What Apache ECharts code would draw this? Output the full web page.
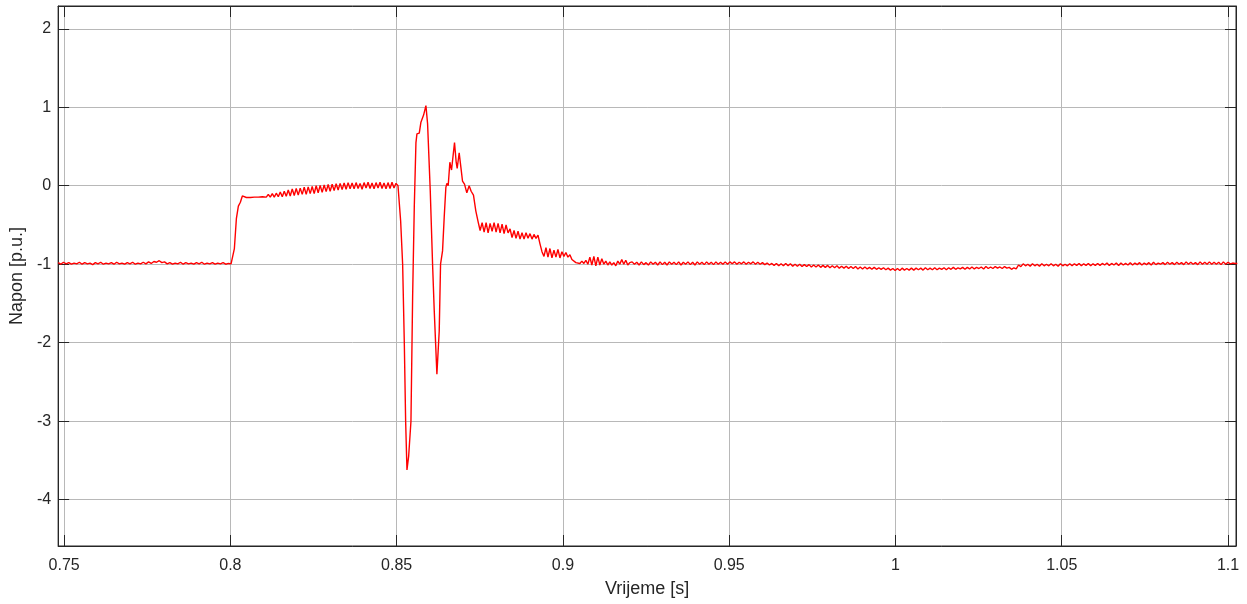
<!DOCTYPE html>
<html>
<head>
<meta charset="utf-8">
<script src="https://cdn.jsdelivr.net/npm/echarts@6/dist/echarts.min.js"></script>
<style>
html,body{margin:0;padding:0;background:#fff;}
#chart{width:1247px;height:604px;}
</style>
</head>
<body>
<div id="chart"></div>
<script>
// ---- data (time in s, voltage in p.u.) ----
const xTicks = [0.75, 0.8, 0.85, 0.9, 0.95, 1.0, 1.05, 1.1];
const yTicks = [-4, -3, -2, -1, 0, 1, 2];
const xMin = 0.7482, xMax = 1.1024;
const yMin = -4.59, yMax = 2.29;

// pre-fault (sampled every 0.8 ms from 0.7482 s)
const preStart = 0.7482, preStep = 0.0008;
const preVals = [
 -0.98,-1.0,-0.975,-0.995,-0.98,-1.0,-0.985,-0.995,-0.975,-1.0,
 -0.98,-0.995,-0.985,-1.005,-0.98,-0.995,-0.975,-1.0,-0.985,-0.995,
 -0.98,-1.0,-0.975,-0.995,-0.985,-1.0,-0.98,-0.995,-0.975,-1.0,
 -0.985,-0.995,-0.975,-0.995,-0.97,-0.99,-0.965,-0.975,-0.955,-0.98,
 -0.97,-0.995,-0.98,-1.0,-0.985,-0.995,-0.975,-1.0,-0.98,-0.995,
 -0.985,-1.0,-0.98,-0.995,-0.975,-1.0,-0.985,-0.995,-0.98,-1.0,
 -0.985,-0.995,-0.98,-1.0,-0.99,-0.995
];

// fault period (sampled every 0.6 ms from 0.8006 s)
const faultStart = 0.8006, faultStep = 0.0006;
const faultVals = [
 -0.99,-0.80,-0.42,-0.26,-0.21,-0.13,-0.115,-0.15,-0.135,-0.15,
 -0.125,-0.145,-0.125,-0.145,-0.12,-0.14,-0.115,-0.145,-0.11,-0.145,
 -0.10,-0.145,-0.095,-0.14,-0.08,-0.14,-0.07,-0.135,-0.055,-0.13,
 -0.04,-0.125,-0.035,-0.12,-0.03,-0.11,-0.02,-0.11,-0.015,-0.10,
 -0.01,-0.10,0.0,-0.09,0.005,-0.085,0.01,-0.075,0.015,-0.07,
 0.02,-0.06,0.025,-0.055,0.03,-0.05,0.035,-0.045,0.04,-0.04,
 0.035,-0.04,0.04,-0.035,0.03,-0.045,0.04,-0.03,0.045,-0.035,
 0.035,-0.04,0.04,-0.03,0.045,-0.035,0.035,-0.04,0.04,-0.035,
 0.045,-0.03,0.03,0.0
];

// transient after clearing (irregular samples)
const transT = [
 0.8507,0.8512,0.8518,0.8523,0.8527,0.8531,0.8536,0.8543,0.8548,0.8553,
 0.8558,0.8561,0.8568,0.8573,0.8581,0.8588,0.8593,0.8601,0.8608,0.8613,
 0.8621,0.8628,0.8632,0.8638,0.8643,0.8648,0.8651,0.8655,0.8660,0.8665,
 0.8674,0.8679,0.8682,0.8688,0.8693,0.8698,0.8704,0.8711,0.8718,0.8724,
 0.8731,0.8738,0.8745,0.8751
];
const transV = [
 0.0,-0.45,-1.0,-2.0,-3.0,-3.62,-3.45,-3.0,-1.42,-0.27,
 0.55,0.66,0.67,0.81,0.90,1.02,0.79,-0.06,-1.0,-1.59,
 -2.40,-1.85,-1.0,-0.83,-0.40,-0.02,0.03,0.0,0.30,0.20,
 0.55,0.30,0.22,0.42,0.24,0.06,0.02,-0.09,0.0,-0.07,
 -0.12,-0.32,-0.46,-0.57
];

// recovery (sampled every 0.6 ms from 0.8757 s)
const recStart = 0.8757, recStep = 0.0006;
const recVals = [
 -0.47,-0.59,-0.47,-0.60,-0.48,-0.58,-0.47,-0.59,-0.48,-0.60,
 -0.49,-0.61,-0.50,-0.60,-0.55,-0.66,-0.57,-0.67,-0.58,-0.68,
 -0.60,-0.68,-0.60,-0.67,-0.61,-0.68,-0.62,-0.67,-0.63,-0.74,
 -0.84,-0.90,-0.79,-0.91,-0.80,-0.92,-0.82,-0.91,-0.81,-0.92,
 -0.84,-0.90,-0.85,-0.91,-0.88,-0.94,-0.95,-0.98,-0.96,-0.99,
 -0.96,-0.99,-0.95,-1.0,-0.91,-1.01,-0.90,-1.02,-0.91,-1.01,
 -0.93,-1.0,-0.96,-1.01,-0.97,-1.01,-0.98,-1.02,-0.96,-1.0,
 -0.94,-1.0,-0.95,-1.01,-0.98
];

// steady state (sampled every 0.7 ms from 0.9208 s)
const postStart = 0.9208, postStep = 0.0007;
const postVals = [
 -0.97,-1.0,-0.975,-1.01,-0.97,-1.005,-0.98,-1.01,-0.97,-1.0,
 -0.975,-1.01,-0.97,-1.005,-0.975,-1.01,-0.97,-1.0,-0.975,-1.005,
 -0.97,-1.01,-0.975,-1.0,-0.97,-1.005,-0.975,-1.01,-0.97,-1.0,
 -0.975,-1.005,-0.97,-1.0,-0.975,-1.005,-0.97,-1.0,-0.975,-1.0,
 -0.97,-1.0,-0.97,-0.995,-0.97,-1.0,-0.975,-0.995,-0.97,-1.0,
 -0.975,-0.995,-0.97,-1.0,-0.975,-1.0,-0.98,-1.005,-0.985,-1.01,
 -0.99,-1.015,-0.99,-1.02,-0.995,-1.02,-0.99,-1.02,-0.995,-1.025,
 -1.0,-1.025,-1.0,-1.03,-1.005,-1.03,-1.005,-1.035,-1.01,-1.035,
 -1.01,-1.04,-1.015,-1.04,-1.015,-1.045,-1.02,-1.045,-1.02,-1.05,
 -1.025,-1.05,-1.025,-1.055,-1.03,-1.055,-1.03,-1.06,-1.035,-1.06,
 -1.035,-1.06,-1.04,-1.065,-1.04,-1.065,-1.045,-1.065,-1.045,-1.07,
 -1.05,-1.075,-1.055,-1.08,-1.055,-1.08,-1.05,-1.075,-1.055,-1.075,
 -1.05,-1.075,-1.05,-1.07,-1.05,-1.075,-1.045,-1.07,-1.05,-1.07,
 -1.045,-1.07,-1.05,-1.065,-1.045,-1.07,-1.045,-1.065,-1.04,-1.065,
 -1.045,-1.06,-1.04,-1.065,-1.04,-1.06,-1.035,-1.06,-1.04,-1.055,
 -1.035,-1.06,-1.03,-1.055,-1.035,-1.055,-1.03,-1.05,-1.035,-1.055,
 -1.03,-1.05,-1.04,-1.065,-1.045,-1.06,-1.01,-1.03,-0.995,-1.02,
 -1.0,-1.025,-0.995,-1.02,-1.0,-1.025,-0.995,-1.02,-1.0,-1.02,
 -0.995,-1.02,-1.0,-1.025,-0.995,-1.02,-1.0,-1.02,-0.995,-1.02,
 -0.995,-1.015,-0.99,-1.02,-0.995,-1.015,-0.99,-1.02,-0.995,-1.015,
 -0.99,-1.015,-0.99,-1.01,-0.985,-1.015,-0.99,-1.01,-0.985,-1.015,
 -0.985,-1.01,-0.99,-1.01,-0.98,-1.01,-0.985,-1.005,-0.98,-1.01,
 -0.985,-1.005,-0.98,-1.01,-0.975,-1.005,-0.985,-1.0,-0.98,-1.005,
 -0.975,-1.0,-0.98,-1.005,-0.975,-1.0,-0.98,-1.005,-0.97,-1.0,
 -0.975,-1.0,-0.98,-1.005,-0.97,-1.0,-0.975,-1.0,-0.97,-1.0,
 -0.975,-1.0,-0.975,-1.005,-0.97,-1.0,-0.975,-0.995,-0.985,-0.99,
 -0.99
];

// ---- build series data ----
function uniform(start, step, vals) {
  return vals.map((v, i) => [+(start + i * step).toFixed(5), v]);
}
const points = []
  .concat(uniform(preStart, preStep, preVals))
  .concat(uniform(faultStart, faultStep, faultVals))
  .concat(transT.map((t, i) => [t, transV[i]]))
  .concat(uniform(recStart, recStep, recVals))
  .concat(uniform(postStart, postStep, postVals));

const axisColor = '#262626';
const gridColor = '#b8b8b8';
const font = 'Liberation Sans, Arial, Helvetica, sans-serif';

function fmtX(v) { return String(+v.toFixed(2)); }

const chart = echarts.init(document.getElementById('chart'), null, {renderer: 'canvas'});
chart.setOption({
  animation: false,
  backgroundColor: '#ffffff',
  grid: {left: 57, top: 6, right: 11, bottom: 58, containLabel: false,
         show: true, borderColor: axisColor, borderWidth: 1},
  xAxis: [{
    type: 'value', min: xMin, max: xMax, position: 'bottom',
    name: 'Vrijeme [s]', nameLocation: 'middle', nameGap: 34,
    nameTextStyle: {color: axisColor, fontSize: 18, fontFamily: font},
    axisLine: {show: true, onZero: false, lineStyle: {color: axisColor, width: 1}},
    axisTick: {show: true, inside: true, length: 11, customValues: xTicks, lineStyle: {color: axisColor}},
    axisLabel: {show: true, customValues: xTicks, formatter: fmtX, color: axisColor, fontSize: 16, fontFamily: font, margin: 12, showMinLabel: true, showMaxLabel: true},
    splitLine: {show: true, lineStyle: {color: gridColor, width: 1}}
  }, {
    type: 'value', min: xMin, max: xMax, position: 'top',
    axisLine: {show: true, onZero: false, lineStyle: {color: axisColor, width: 1}},
    axisTick: {show: true, inside: true, length: 11, customValues: xTicks, lineStyle: {color: axisColor}},
    axisLabel: {show: false, customValues: xTicks},
    splitLine: {show: false}
  }],
  yAxis: [{
    type: 'value', min: yMin, max: yMax, position: 'left',
    name: 'Napon [p.u.]', nameLocation: 'middle', nameGap: 28, nameRotate: 90,
    nameTextStyle: {color: axisColor, fontSize: 18, fontFamily: font},
    axisLine: {show: true, onZero: false, lineStyle: {color: axisColor, width: 1}},
    axisTick: {show: true, inside: true, length: 11, customValues: yTicks, lineStyle: {color: axisColor}},
    axisLabel: {show: true, customValues: yTicks, color: axisColor, fontSize: 16, fontFamily: font, margin: 7},
    splitLine: {show: true, lineStyle: {color: gridColor, width: 1}}
  }, {
    type: 'value', min: yMin, max: yMax, position: 'right',
    axisLine: {show: true, onZero: false, lineStyle: {color: axisColor, width: 1}},
    axisTick: {show: true, inside: true, length: 11, customValues: yTicks, lineStyle: {color: axisColor}},
    axisLabel: {show: false, customValues: yTicks},
    splitLine: {show: false}
  }],
  series: [{
    type: 'line', xAxisIndex: 0, yAxisIndex: 0,
    data: points, showSymbol: false, symbol: 'none', smooth: false,
    lineStyle: {color: '#ff0000', width: 1.4},
    clip: true
  }]
});
</script>
</body>
</html>
